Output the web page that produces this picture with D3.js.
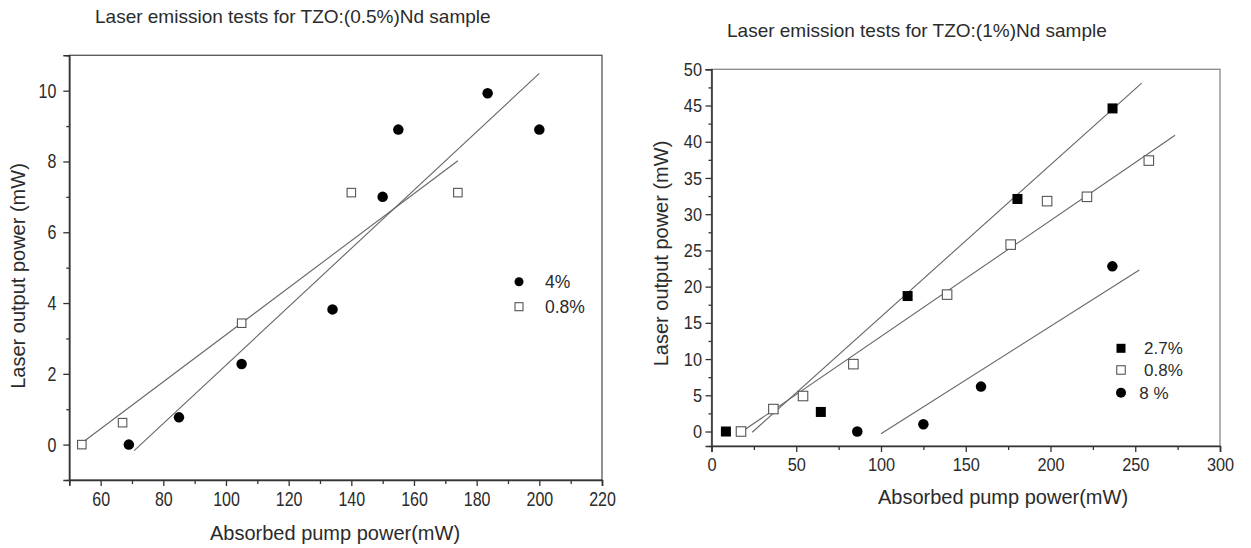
<!DOCTYPE html>
<html>
<head>
<meta charset="utf-8">
<script src="https://cdn.jsdelivr.net/npm/d3@7"></script>
<style>
  body { margin: 0; background: #fff; }
  text { font-family: 'Liberation Sans', Arial, sans-serif; fill: #2b2b2b; }
</style>
</head>
<body>
<svg id="chart" width="1251" height="548"></svg>
<script>
// ---- TZO:(0.5%)Nd sample ----
const leftTitle = 'Laser emission tests for TZO:(0.5%)Nd sample'
const leftXTicks = [60, 80, 100, 120, 140, 160, 180, 200, 220]
const leftXMinor = [50, 70, 90, 110, 130, 150, 170, 190, 210]
const leftYTicks = [0, 2, 4, 6, 8, 10]
const leftYMinor = [-1, 1, 3, 5, 7, 9, 11]
const left4X = [69, 85, 105, 134, 150, 155, 183.5, 200]
const left4Y = [0, 0.77, 2.28, 3.82, 7.0, 8.9, 9.93, 8.9]
const left08X = [54, 67, 105, 140, 174]
const left08Y = [0, 0.62, 3.43, 7.12, 7.12]
const leftFit4 = [[70.7, -0.17], [200, 10.49]]
const leftFit08 = [[54.5, 0.08], [174, 8.02]]

// ---- TZO:(1%)Nd sample ----
const rightTitle = 'Laser emission tests for TZO:(1%)Nd sample'
const rightXTicks = [0, 50, 100, 150, 200, 250, 300]
const rightXMinor = [25, 75, 125, 175, 225, 275]
const rightYTicks = [0, 5, 10, 15, 20, 25, 30, 35, 40, 45, 50]
const rightYMinor = [-2, 2.5, 7.5, 12.5, 17.5, 22.5, 27.5, 32.5, 37.5, 42.5, 47.5]
const right27X = [8.5, 64.5, 115.7, 180.5, 236.6]
const right27Y = [0, 2.7, 18.7, 32.1, 44.6]
const right08X = [17.4, 36.5, 54, 83.7, 139, 176.5, 198, 221.5, 258]
const right08Y = [0, 3.1, 4.9, 9.3, 18.9, 25.8, 31.8, 32.4, 37.4]
const right8X = [86, 125, 159, 236.5]
const right8Y = [0, 1.0, 6.2, 22.8]
const rightFit27 = [[24, -0.1], [253.8, 48.1]]
const rightFit08 = [[18, 0.0], [273.5, 40.9]]
const rightFit8 = [[100, -0.3], [252.4, 22.3]]

const xLabel = 'Absorbed pump power(mW)'
const yLabel = 'Laser output power (mW)'

const svg = d3.select('#chart')
svg.append('rect').attr('width', 1251).attr('height', 548).attr('fill', '#fff')

function zip (xs, ys) {
  return xs.map((v, i) => [v, ys[i]])
}

function drawPanel (p) {
  const x = d3.scaleLinear().domain(p.xDomain).range(p.xRange)
  const y = d3.scaleLinear().domain(p.yDomain).range(p.yRange)
  const g = svg.append('g')

  // frame (top / right)
  g.append('rect')
    .attr('x', p.xRange[0])
    .attr('y', p.yRange[1])
    .attr('width', p.xRange[1] - p.xRange[0])
    .attr('height', p.yRange[0] - p.yRange[1])
    .attr('fill', 'none')
    .attr('stroke', p.frameColor)
    .attr('stroke-width', 1.3)

  // minor ticks
  g.append('g')
    .attr('transform', 'translate(0,' + p.yRange[0] + ')')
    .call(d3.axisBottom(x).tickValues(p.xMinor).tickSize(4).tickFormat(''))
    .call(s => s.select('.domain').remove())
  g.append('g')
    .attr('transform', 'translate(' + p.xRange[0] + ',0)')
    .call(d3.axisLeft(y).tickValues(p.yMinor).tickSize(3).tickFormat(''))
    .call(s => s.select('.domain').remove())

  const xa = g.append('g')
    .attr('transform', 'translate(0,' + p.yRange[0] + ')')
    .call(d3.axisBottom(x).tickValues(p.xTicks).tickSize(6).tickPadding(6).tickFormat(d3.format('d')))
  const ya = g.append('g')
    .attr('transform', 'translate(' + p.xRange[0] + ',0)')
    .call(d3.axisLeft(y).tickValues(p.yTicks).tickSize(6).tickFormat(d3.format('d')))

  g.selectAll('.tick line').attr('stroke', '#333').attr('stroke-width', 1.3)
  xa.select('.domain').attr('stroke', '#333').attr('stroke-width', 1.6)
  ya.select('.domain').attr('stroke', '#333').attr('stroke-width', 1.6)
  xa.selectAll('text')
    .style('font-size', p.tickFont + 'px')
    .attr('transform', 'scale(' + p.tickScale + ',1)')
  ya.selectAll('text')
    .style('font-size', p.tickFont + 'px')
    .attr('x', -p.yTickGap / p.tickScale)
    .attr('transform', 'scale(' + p.tickScale + ',1)')

  // fitted lines
  const line = d3.line().x(d => x(d[0])).y(d => y(d[1]))
  p.fits.forEach(f => {
    g.append('path')
      .attr('d', line(f))
      .attr('fill', 'none')
      .attr('stroke', '#666')
      .attr('stroke-width', 1.1)
  })

  // markers
  p.series.forEach(s => {
    drawMarkers(g, s.marker, zip(s.xs, s.ys).map(d => [x(d[0]), y(d[1])]), s.size)
  })

  // legend
  p.legend.forEach(l => {
    drawMarkers(g, l.marker, [[l.x, l.y]], l.size)
    g.append('text')
      .attr('x', l.x + l.dx)
      .attr('y', l.y)
      .attr('dy', '0.35em')
      .style('font-size', p.legendFont + 'px')
      .text(l.label)
  })

  // titles
  g.append('text')
    .attr('x', p.titlePos[0])
    .attr('y', p.titlePos[1])
    .style('font-size', '19px')
    .text(p.title)
  g.append('text')
    .attr('x', p.xLabelPos[0])
    .attr('y', p.xLabelPos[1])
    .attr('text-anchor', 'middle')
    .style('font-size', '20px')
    .text(xLabel)
  g.append('text')
    .attr('transform', 'translate(' + p.yLabelPos[0] + ',' + p.yLabelPos[1] + ') rotate(-90)')
    .attr('text-anchor', 'middle')
    .style('font-size', '20px')
    .text(yLabel)
}

function drawMarkers (g, marker, pts, size) {
  if (marker === 'dot') {
    g.selectAll(null).data(pts).enter().append('circle')
      .attr('cx', d => d[0]).attr('cy', d => d[1]).attr('r', size / 2)
      .attr('fill', '#000')
  } else {
    const open = marker === 'open'
    g.selectAll(null).data(pts).enter().append('rect')
      .attr('x', d => d[0] - size / 2).attr('y', d => d[1] - size / 2)
      .attr('width', size).attr('height', size)
      .attr('fill', open ? '#fff' : '#000')
      .attr('stroke', open ? '#555' : '#000')
      .attr('stroke-width', open ? 1.1 : 0)
  }
}

drawPanel({
  title: leftTitle,
  titlePos: [95, 22.7],
  xDomain: [50, 220],
  xRange: [69.3, 602],
  yDomain: [-1, 11],
  yRange: [480, 55.3],
  xTicks: leftXTicks,
  xMinor: leftXMinor,
  yTicks: leftYTicks,
  yMinor: leftYMinor,
  tickFont: 20,
  tickScale: 0.8,
  yTickGap: 13,
  frameColor: '#555',
  fits: [leftFit4, leftFit08],
  series: [
    { marker: 'dot', xs: left4X, ys: left4Y, size: 10.5 },
    { marker: 'open', xs: left08X, ys: left08Y, size: 8.5 }
  ],
  legendFont: 17.5,
  legend: [
    { marker: 'dot', label: '4%', x: 519, y: 281.7, dx: 26, size: 9 },
    { marker: 'open', label: '0.8%', x: 519, y: 306.7, dx: 26, size: 8 }
  ],
  xLabelPos: [335, 539.5],
  yLabelPos: [25, 276]
})

drawPanel({
  title: rightTitle,
  titlePos: [727, 36.7],
  xDomain: [0, 300],
  xRange: [711.5, 1220],
  yDomain: [-2, 50],
  yRange: [446, 69.3],
  xTicks: rightXTicks,
  xMinor: rightXMinor,
  yTicks: rightYTicks,
  yMinor: rightYMinor,
  tickFont: 19,
  tickScale: 0.86,
  yTickGap: 9.5,
  frameColor: '#888',
  fits: [rightFit27, rightFit08, rightFit8],
  series: [
    { marker: 'filled', xs: right27X, ys: right27Y, size: 10 },
    { marker: 'open', xs: right08X, ys: right08Y, size: 9.5 },
    { marker: 'dot', xs: right8X, ys: right8Y, size: 10.5 }
  ],
  legendFont: 17,
  legend: [
    { marker: 'filled', label: '2.7%', x: 1121, y: 348.3, dx: 23, size: 9 },
    { marker: 'open', label: '0.8%', x: 1121, y: 370, dx: 23, size: 8.5 },
    { marker: 'dot', label: '8 %', x: 1121, y: 392.7, dx: 18.3, size: 10 }
  ],
  xLabelPos: [1003, 503.5],
  yLabelPos: [667.5, 253.5]
})
</script>
</body>
</html>
